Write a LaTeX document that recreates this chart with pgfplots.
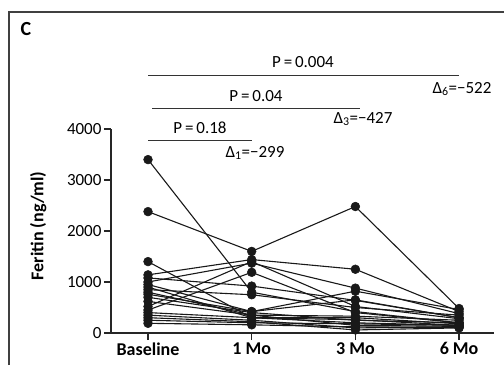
\documentclass[border=0pt]{standalone}
\usepackage{fontspec}
\setmainfont{Carlito}
\usepackage{pgfplots}
\pgfplotsset{compat=1.18}
\begin{document}
\begin{tikzpicture}[x=1pt,y=1pt]
\useasboundingbox (0,0) rectangle (504,365);
\draw[line width=1.3pt, black!75] (9,0) -- (9,353) -- (504,353);
\node[font=\fontsize{20}{22}\selectfont\bfseries] at (26,336) {C};
\begin{axis}[
  at={(111pt,32pt)}, anchor=south west,
  scale only axis, width=383pt, height=204pt,
  xmin=-0.357, xmax=3.337, ymin=0, ymax=4000,
  axis x line*=bottom, axis y line*=left,
  axis line style={line width=1.2pt, black!85},
  tick style={line width=1.2pt, black!85},
  tick align=outside, major tick length=7pt,
  xtick={0,1,2,3}, xticklabels={Baseline,1 Mo,3 Mo,6 Mo},
  ytick={0,1000,2000,3000,4000},
  /pgf/number format/assume math mode=true,
  /pgf/number format/1000 sep={},
  yticklabel style={font=\fontsize{17}{19}\selectfont, xshift=1pt},
  xticklabel style={font=\fontsize{18}{20}\selectfont\bfseries, yshift=1pt},
  ylabel={Feritin (ng/ml)},
  ylabel style={font=\fontsize{18}{20}\selectfont\bfseries, at={(axis description cs:-0.19,0.525)}, anchor=center},
  clip=false,
  pt/.style={color=black!90, solid, line width=1.1pt, mark=*, mark size=4.4pt, mark options={fill=black!90, line width=0.5pt}},
]
\addplot[pt] coordinates {(0,3400)(1,800)(2,420)(3,200)};
\addplot[pt] coordinates {(0,2380)(1,1600)(2,2480)(3,480)};
\addplot[pt] coordinates {(0,1400)(1,300)(2,300)(3,180)};
\addplot[pt] coordinates {(0,1140)(1,1440)(2,1250)(3,420)};
\addplot[pt] coordinates {(0,1080)(1,920)(2,640)(3,300)};
\addplot[pt] coordinates {(0,1000)(1,1370)(2,880)(3,380)};
\addplot[pt] coordinates {(0,950)(1,420)(2,820)(3,460)};
\addplot[pt] coordinates {(0,900)(1,300)(2,200)(3,150)};
\addplot[pt] coordinates {(0,850)(1,750)(2,500)(3,350)};
\addplot[pt] coordinates {(0,800)(1,350)(2,330)(3,250)};
\addplot[pt] coordinates {(0,760)(1,420)(2,650)(3,300)};
\addplot[pt] coordinates {(0,700)(1,400)(2,250)(3,200)};
\addplot[pt] coordinates {(0,620)(1,350)(2,150)(3,130)};
\addplot[pt] coordinates {(0,520)(1,1400)(2,520)(3,280)};
\addplot[pt] coordinates {(0,450)(1,1190)(2,400)(3,200)};
\addplot[pt] coordinates {(0,400)(1,300)(2,260)(3,150)};
\addplot[pt] coordinates {(0,350)(1,250)(2,100)(3,120)};
\addplot[pt] coordinates {(0,300)(1,220)(2,60)(3,100)};
\addplot[pt] coordinates {(0,250)(1,200)(2,180)(3,150)};
\addplot[pt] coordinates {(0,190)(1,160)(2,120)(3,110)};
\end{axis}
% significance brackets
\draw[line width=1.1pt, black!80] (148,289.3) -- (459,289.3);
\draw[line width=1.1pt, black!80] (152,256.3) -- (360,256.3);
\draw[line width=1.1pt, black!80] (148,224.3) -- (252,224.3);
\begin{scope}[every node/.style={font=\fontsize{17}{19}\selectfont, inner sep=0pt}]
\node at (303,303) {P\,=\,0.004};
\node at (256,269) {P\,=\,0.04};
\node at (200,237) {P\,=\,0.18};
\node at (462,276) {Δ\textsubscript{6}=−522};
\node at (363,246) {Δ\textsubscript{3}=−427};
\node at (255,212) {Δ\textsubscript{1}=−299};
\end{scope}
\end{tikzpicture}
\end{document}
